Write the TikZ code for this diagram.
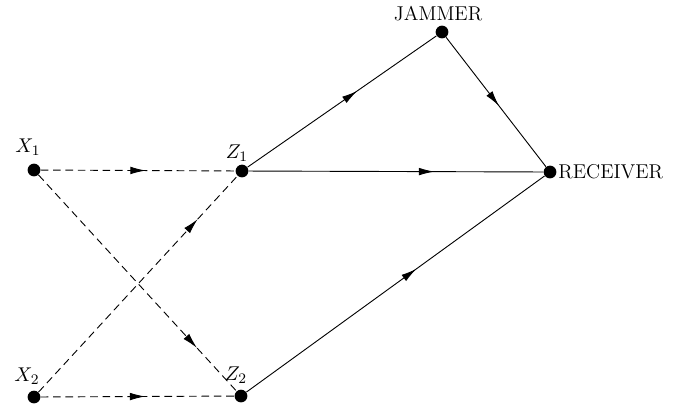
\documentclass[tikz,border=0pt]{standalone}
\usetikzlibrary{arrows.meta,decorations.markings}
\begin{document}
\begin{tikzpicture}[x=0.55pt,y=-0.55pt,
  dot/.style={circle,fill=black,inner sep=0pt,minimum size=7pt},
  lbl/.style={inner sep=0pt,font=\fontsize{11}{13}\selectfont},
  midarrow/.style={postaction={decorate},decoration={markings,
     mark=at position #1 with {\arrow{Latex[length=8.5pt,width=4.2pt]}}}},
  link/.style={line width=0.5pt},
  dlink/.style={line width=0.5pt,dash pattern=on 4.2pt off 2.6pt}]
\useasboundingbox (0,0) rectangle (680,411);
\node[dot] (x1) at (34,170) {};
\node[dot] (z1) at (242,171) {};
\node[dot] (jam) at (442,32) {};
\node[dot] (rec) at (550,172) {};
\node[dot] (x2) at (34,397) {};
\node[dot] (z2) at (241,396) {};
\node[lbl] (lx1) at (28,147) {$X_1$};
\node[lbl] (lz1) at (237,153) {$Z_1$};
\node[lbl] (lx2) at (27,376) {$X_2$};
\node[lbl] (lz2) at (236,375) {$Z_2$};
\node[lbl] (ljam) at (438,14) {JAMMER};
\node[lbl,anchor=west] (lrec) at (558,172) {RECEIVER};
\draw[dlink,midarrow=0.54] (x1) -- (z1);
\draw[dlink,midarrow=0.54] (x2) -- (z2);
\draw[dlink,midarrow=0.8] (x1) -- (z2);
\draw[dlink,midarrow=0.8] (x2) -- (z1);
\draw[link,midarrow=0.58] (z1) -- (jam);
\draw[link,midarrow=0.53] (jam) -- (rec);
\draw[link,midarrow=0.63] (z1) -- (rec);
\draw[link,midarrow=0.57] (z2) -- (rec);
\end{tikzpicture}
\end{document}
